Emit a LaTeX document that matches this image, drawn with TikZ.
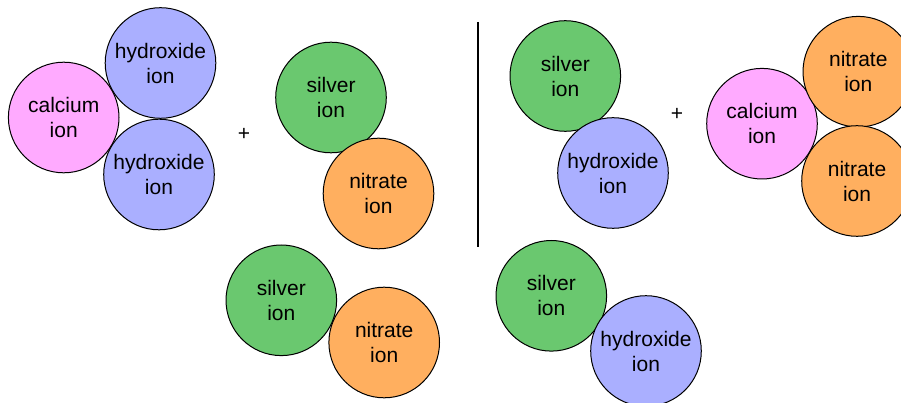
\documentclass[tikz,border=0pt]{standalone}
\usepackage{fontspec}
\setmainfont{Liberation Sans}
\definecolor{calciumpink}{HTML}{FFAAFF}
\definecolor{hydroxideblue}{HTML}{AAAFFF}
\definecolor{silvergreen}{HTML}{6AC86F}
\definecolor{nitrateorange}{HTML}{FFAF5F}
\begin{document}
\begin{tikzpicture}[x=1pt,y=-1pt,
  ionball/.style={circle,draw=black,line width=1pt,minimum size=110.6pt,inner sep=0pt,
    align=center,font=\fontsize{21}{25}\selectfont},
  calcium/.style={ionball,fill=calciumpink},
  hydroxide/.style={ionball,fill=hydroxideblue},
  silver/.style={ionball,fill=silvergreen},
  nitrate/.style={ionball,fill=nitrateorange},
  plussign/.style={font=\fontsize{21}{23}\selectfont,inner sep=0pt}]
\useasboundingbox (0,0) rectangle (901,403);
% reactants: calcium hydroxide
\node[calcium]   (ca1) at (63.7,117.5) {calcium\\ion};
\node[hydroxide] (oh1) at (160.5,63)   {hydroxide\\ion};
\node[hydroxide] (oh2) at (159,174.5)  {hydroxide\\ion};
\node[plussign]  (plus1) at (244,134) {+};
% reactants: silver nitrate (two units)
\node[silver]  (ag1) at (331,97.5)    {silver\\ion};
\node[nitrate] (no1) at (378.5,193.5) {nitrate\\ion};
\node[silver]  (ag2) at (281.3,300.3) {silver\\ion};
\node[nitrate] (no2) at (384.2,342.5) {nitrate\\ion};
% divider between reactants and products
\coordinate (divtop) at (478,22);
\coordinate (divbot) at (478,247);
\draw[line width=2pt] (divtop) -- (divbot);
% products: silver hydroxide (two units)
\node[silver]    (ag3) at (565.3,76)   {silver\\ion};
\node[hydroxide] (oh3) at (613,173)    {hydroxide\\ion};
\node[silver]    (ag4) at (551.3,295.8) {silver\\ion};
\node[hydroxide] (oh4) at (646,351)    {hydroxide\\ion};
\node[plussign]  (plus2) at (677,114) {+};
% products: calcium nitrate
\node[calcium] (ca2) at (762,123.7)   {calcium\\ion};
\node[nitrate] (no3) at (858.3,71.7)  {nitrate\\ion};
\node[nitrate] (no4) at (857,181)     {nitrate\\ion};
\end{tikzpicture}
\end{document}
